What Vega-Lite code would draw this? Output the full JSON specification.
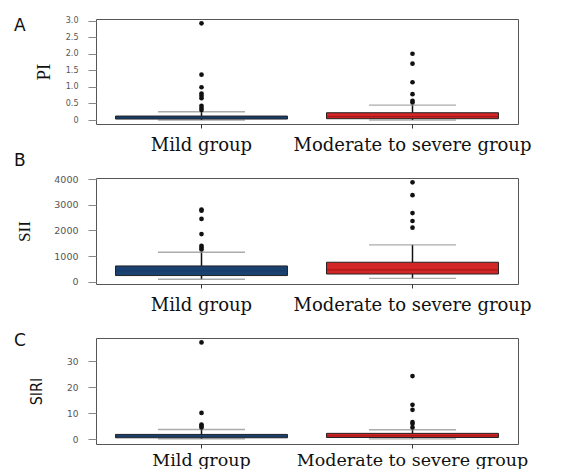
{
  "$schema": "https://vega.github.io/schema/vega-lite/v6.json",
  "padding": {"left": 13, "top": 16, "right": 0, "bottom": 0},
  "spacing": 54,
  "bounds": "flush",
  "background": "white",
  "config": {
    "view": {"stroke": "#555", "strokeWidth": 1},
    "axis": {"grid": false, "domain": false},
    "axisY": {"tickColor": "#888", "tickSize": 8, "labelColor": "#555", "labelFont": "DejaVu Sans", "titleFontWeight": "normal", "titleColor": "#111", "labelPadding": 10},
    "axisX": {"tickColor": "#333", "tickSize": 4, "labelColor": "#111", "labelFont": "DejaVu Serif", "labelFontSize": 18, "labelPadding": 8, "labelAngle": 0, "labelLimit": 0, "title": null},
    "title": {"anchor": "start", "frame": "group", "fontSize": 17, "fontWeight": "normal", "font": "DejaVu Sans", "color": "#111", "dx": -82, "offset": 0}
  },
  "datasets": {
    "boxes": [
      {"panel": "A", "group": "Mild group", "lower": 0.0, "q1": 0.03, "median": 0.07, "q3": 0.12, "upper": 0.25},
      {"panel": "A", "group": "Moderate to severe group", "lower": 0.0, "q1": 0.04, "median": 0.1, "q3": 0.22, "upper": 0.45},
      {"panel": "B", "group": "Mild group", "lower": 95, "q1": 240, "median": 420, "q3": 615, "upper": 1150},
      {"panel": "B", "group": "Moderate to severe group", "lower": 130, "q1": 300, "median": 460, "q3": 760, "upper": 1440},
      {"panel": "C", "group": "Mild group", "lower": 0.1, "q1": 0.5, "median": 1.0, "q3": 1.8, "upper": 3.7},
      {"panel": "C", "group": "Moderate to severe group", "lower": 0.1, "q1": 0.6, "median": 1.2, "q3": 2.2, "upper": 3.6}
    ],
    "outliers": [
      {"panel": "A", "group": "Mild group", "value": 2.92},
      {"panel": "A", "group": "Mild group", "value": 1.37},
      {"panel": "A", "group": "Mild group", "value": 0.99},
      {"panel": "A", "group": "Mild group", "value": 0.8},
      {"panel": "A", "group": "Mild group", "value": 0.73},
      {"panel": "A", "group": "Mild group", "value": 0.66},
      {"panel": "A", "group": "Mild group", "value": 0.43},
      {"panel": "A", "group": "Mild group", "value": 0.36},
      {"panel": "A", "group": "Mild group", "value": 0.3},
      {"panel": "A", "group": "Moderate to severe group", "value": 2.0},
      {"panel": "A", "group": "Moderate to severe group", "value": 1.7},
      {"panel": "A", "group": "Moderate to severe group", "value": 1.14},
      {"panel": "A", "group": "Moderate to severe group", "value": 0.78},
      {"panel": "A", "group": "Moderate to severe group", "value": 0.58},
      {"panel": "A", "group": "Moderate to severe group", "value": 0.53},
      {"panel": "B", "group": "Mild group", "value": 2820},
      {"panel": "B", "group": "Mild group", "value": 2770},
      {"panel": "B", "group": "Mild group", "value": 2450},
      {"panel": "B", "group": "Mild group", "value": 1860},
      {"panel": "B", "group": "Mild group", "value": 1400},
      {"panel": "B", "group": "Mild group", "value": 1330},
      {"panel": "B", "group": "Mild group", "value": 1260},
      {"panel": "B", "group": "Moderate to severe group", "value": 3880},
      {"panel": "B", "group": "Moderate to severe group", "value": 3380},
      {"panel": "B", "group": "Moderate to severe group", "value": 2680},
      {"panel": "B", "group": "Moderate to severe group", "value": 2370},
      {"panel": "B", "group": "Moderate to severe group", "value": 2110},
      {"panel": "C", "group": "Mild group", "value": 37.3},
      {"panel": "C", "group": "Mild group", "value": 10.1},
      {"panel": "C", "group": "Mild group", "value": 5.6},
      {"panel": "C", "group": "Mild group", "value": 5.0},
      {"panel": "C", "group": "Mild group", "value": 4.5},
      {"panel": "C", "group": "Moderate to severe group", "value": 24.3},
      {"panel": "C", "group": "Moderate to severe group", "value": 13.2},
      {"panel": "C", "group": "Moderate to severe group", "value": 11.3},
      {"panel": "C", "group": "Moderate to severe group", "value": 6.6},
      {"panel": "C", "group": "Moderate to severe group", "value": 5.9},
      {"panel": "C", "group": "Moderate to severe group", "value": 4.5}
    ]
  },
  "vconcat": [
    {
      "title": {"text": "A", "dy": 22},
      "width": 422, "height": 105,
      "encoding": {
        "x": {"field": "group", "type": "nominal", "sort": ["Mild group", "Moderate to severe group"], "scale": {"paddingInner": 0, "paddingOuter": 0}},
        "y": {"type": "quantitative", "scale": {"domain": [-0.12, 3.05], "nice": false, "zero": false}, "axis": {"title": "PI", "titleFont": "Liberation Serif", "titleFontSize": 19, "titlePadding": 12, "values": [0, 0.5, 1, 1.5, 2, 2.5, 3], "labelExpr": "datum.value == 0 ? '0' : format(datum.value, '.1f')", "labelFontSize": 8}}
      },
      "layer": [
        {"data": {"name": "boxes"}, "transform": [{"filter": "datum.panel == 'A'"}], "mark": {"type": "rule", "color": "#111", "strokeWidth": 1.5}, "encoding": {"y": {"field": "lower"}, "y2": {"field": "upper"}}},
        {"data": {"name": "boxes"}, "transform": [{"filter": "datum.panel == 'A'"}], "mark": {"type": "tick", "color": "#888", "size": 87, "thickness": 1.3}, "encoding": {"y": {"field": "upper"}}},
        {"data": {"name": "boxes"}, "transform": [{"filter": "datum.panel == 'A'"}], "mark": {"type": "tick", "color": "#888", "size": 87, "thickness": 1.3}, "encoding": {"y": {"field": "lower"}}},
        {"data": {"name": "boxes"}, "transform": [{"filter": "datum.panel == 'A'"}], "mark": {"type": "bar", "width": {"band": 0.815}, "stroke": "#222", "strokeWidth": 1, "opacity": 1}, "encoding": {"y": {"field": "q1"}, "y2": {"field": "q3"}, "fill": {"field": "group", "type": "nominal", "scale": {"range": ["#1b4170", "#d42626"]}, "legend": null}}},
        {"data": {"name": "boxes"}, "transform": [{"filter": "datum.panel == 'A'"}], "mark": {"type": "tick", "size": 172, "thickness": 1.2}, "encoding": {"y": {"field": "median"}, "color": {"field": "group", "type": "nominal", "scale": {"range": ["#163a64", "#8e1414"]}, "legend": null}}},
        {"data": {"name": "outliers"}, "transform": [{"filter": "datum.panel == 'A'"}], "mark": {"type": "point", "filled": true, "color": "#111", "size": 22, "opacity": 1}, "encoding": {"y": {"field": "value"}}}
      ],
      "resolve": {"scale": {"color": "independent", "fill": "independent"}}
    },
    {
      "title": {"text": "B", "dy": 0},
      "width": 422, "height": 106,
      "encoding": {
        "x": {"field": "group", "type": "nominal", "sort": ["Mild group", "Moderate to severe group"], "scale": {"paddingInner": 0, "paddingOuter": 0}},
        "y": {"type": "quantitative", "scale": {"domain": [-90, 4050], "nice": false, "zero": false}, "axis": {"title": "SII", "titleFont": "Liberation Serif", "titleFontSize": 17, "titlePadding": 20, "values": [0, 1000, 2000, 3000, 4000], "format": "d", "labelFontSize": 9.5}}
      },
      "layer": [
        {"data": {"name": "boxes"}, "transform": [{"filter": "datum.panel == 'B'"}], "mark": {"type": "rule", "color": "#111", "strokeWidth": 1.5}, "encoding": {"y": {"field": "lower"}, "y2": {"field": "upper"}}},
        {"data": {"name": "boxes"}, "transform": [{"filter": "datum.panel == 'B'"}], "mark": {"type": "tick", "color": "#888", "size": 87, "thickness": 1.3}, "encoding": {"y": {"field": "upper"}}},
        {"data": {"name": "boxes"}, "transform": [{"filter": "datum.panel == 'B'"}], "mark": {"type": "tick", "color": "#888", "size": 87, "thickness": 1.3}, "encoding": {"y": {"field": "lower"}}},
        {"data": {"name": "boxes"}, "transform": [{"filter": "datum.panel == 'B'"}], "mark": {"type": "bar", "width": {"band": 0.815}, "stroke": "#222", "strokeWidth": 1, "opacity": 1}, "encoding": {"y": {"field": "q1"}, "y2": {"field": "q3"}, "fill": {"field": "group", "type": "nominal", "scale": {"range": ["#1b4170", "#d42626"]}, "legend": null}}},
        {"data": {"name": "boxes"}, "transform": [{"filter": "datum.panel == 'B'"}], "mark": {"type": "tick", "size": 172, "thickness": 1.2}, "encoding": {"y": {"field": "median"}, "color": {"field": "group", "type": "nominal", "scale": {"range": ["#163a64", "#8e1414"]}, "legend": null}}},
        {"data": {"name": "outliers"}, "transform": [{"filter": "datum.panel == 'B'"}], "mark": {"type": "point", "filled": true, "color": "#111", "size": 22, "opacity": 1}, "encoding": {"y": {"field": "value"}}}
      ],
      "resolve": {"scale": {"color": "independent", "fill": "independent"}}
    },
    {
      "title": {"text": "C", "dy": 16},
      "width": 422, "height": 106,
      "encoding": {
        "x": {"field": "group", "type": "nominal", "sort": ["Mild group", "Moderate to severe group"], "scale": {"paddingInner": 0, "paddingOuter": 0}, "axis": {"labelFontSize": 17.5, "labelPadding": 3}},
        "y": {"type": "quantitative", "scale": {"domain": [-1.9, 39], "nice": false, "zero": false}, "axis": {"title": "SIRI", "titleFont": "DejaVu Sans Condensed, DejaVu Sans", "titleFontSize": 16, "titlePadding": 22, "values": [0, 10, 20, 30], "format": "d", "labelFontSize": 9}}
      },
      "layer": [
        {"data": {"name": "boxes"}, "transform": [{"filter": "datum.panel == 'C'"}], "mark": {"type": "rule", "color": "#111", "strokeWidth": 1.5}, "encoding": {"y": {"field": "lower"}, "y2": {"field": "upper"}}},
        {"data": {"name": "boxes"}, "transform": [{"filter": "datum.panel == 'C'"}], "mark": {"type": "tick", "color": "#888", "size": 87, "thickness": 1.3}, "encoding": {"y": {"field": "upper"}}},
        {"data": {"name": "boxes"}, "transform": [{"filter": "datum.panel == 'C'"}], "mark": {"type": "tick", "color": "#888", "size": 87, "thickness": 1.3}, "encoding": {"y": {"field": "lower"}}},
        {"data": {"name": "boxes"}, "transform": [{"filter": "datum.panel == 'C'"}], "mark": {"type": "bar", "width": {"band": 0.815}, "stroke": "#222", "strokeWidth": 1, "opacity": 1}, "encoding": {"y": {"field": "q1"}, "y2": {"field": "q3"}, "fill": {"field": "group", "type": "nominal", "scale": {"range": ["#1b4170", "#d42626"]}, "legend": null}}},
        {"data": {"name": "boxes"}, "transform": [{"filter": "datum.panel == 'C'"}], "mark": {"type": "tick", "size": 172, "thickness": 1.2}, "encoding": {"y": {"field": "median"}, "color": {"field": "group", "type": "nominal", "scale": {"range": ["#163a64", "#8e1414"]}, "legend": null}}},
        {"data": {"name": "outliers"}, "transform": [{"filter": "datum.panel == 'C'"}], "mark": {"type": "point", "filled": true, "color": "#111", "size": 22, "opacity": 1}, "encoding": {"y": {"field": "value"}}}
      ],
      "resolve": {"scale": {"color": "independent", "fill": "independent"}}
    }
  ]
}
